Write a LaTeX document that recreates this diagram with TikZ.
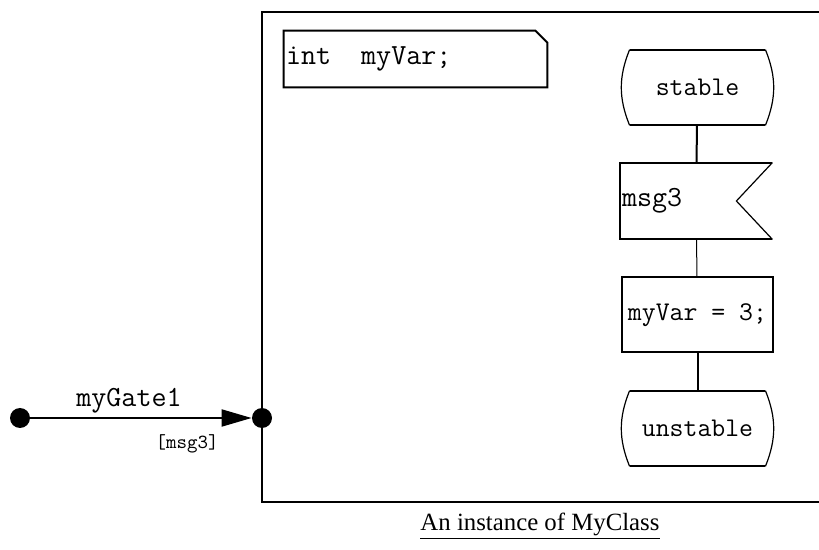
\documentclass[tikz,border=0pt]{standalone}
\usepackage{fontspec}
\setmainfont{Liberation Serif}
\usetikzlibrary{positioning,arrows.meta}

\begin{document}
\begin{tikzpicture}[x=0.5pt,y=-0.5pt,>=Stealth,
  sdlbox/.style={minimum width=75.5pt,minimum height=37.5pt,inner sep=1pt,font=\ttfamily\fontsize{13.5pt}{15pt}\selectfont},
  sdltask/.style={sdlbox,draw,line width=1pt},
  gatedot/.style={circle,fill=black,minimum size=10pt,inner sep=0pt},
  wire/.style={line width=1pt}]
\useasboundingbox (0,0) rectangle (819,550);
% frame of the instance
\draw[line width=1pt] (262,12) rectangle (824,502);
\node[font=\rmfamily\fontsize{12.4pt}{14pt}\selectfont] (caption) at (540,526) {\underline{An instance of MyClass}};
% declaration
\node[minimum width=131.5pt,minimum height=28pt,inner sep=1pt,text width=129.5pt,align=left,
  font=\ttfamily\fontsize{14.6pt}{16pt}\selectfont] (decl) at (415.5,59) {int\phantom{xx}myVar;};
\draw[line width=1pt] (decl.north west) -- ([xshift=-6pt]decl.north east) -- ([yshift=-6pt]decl.north east)
  -- (decl.south east) -- (decl.south west) -- cycle;
% state machine
\node[sdlbox] (stable) at (697.5,87.5) {stable};
\node[sdlbox,minimum width=76pt,minimum height=38pt,text width=74pt,align=left,
  font=\ttfamily\fontsize{14.6pt}{16pt}\selectfont] (msg3) at (696,201) {msg3\\[8pt]};
\node[sdltask] (assign) at (697.5,315) {myVar = 3;\\[4pt]};
\node[sdlbox] (unstable) at (697.5,428.5) {unstable};
\foreach \s in {stable,unstable}{
  \draw[line width=1pt] ([xshift=4pt]\s.north west) -- ([xshift=-4pt]\s.north east);
  \draw[line width=1pt] ([xshift=4pt]\s.south west) -- ([xshift=-4pt]\s.south east);
  \draw[line width=0.6pt] ([xshift=-4pt]\s.north east) to[bend left=22] ([xshift=-4pt]\s.south east);
  \draw[line width=0.6pt] ([xshift=4pt]\s.south west) to[bend left=22] ([xshift=4pt]\s.north west);}
\draw[line width=1pt] (msg3.north east) -- (msg3.north west) -- (msg3.south west) -- (msg3.south east);
\draw[line width=0.6pt] (msg3.north east) -- ([xshift=-18pt]msg3.east) -- (msg3.south east);
\draw[wire] (stable) -- (msg3);
\draw[line width=0.5pt] (msg3) -- (assign);
\draw[wire] (assign) -- (unstable);
% gate
\node[gatedot] (gout) at (20,418) {};
\node[gatedot] (gin) at (262,418) {};
\draw[wire,-{Triangle[length=15pt,width=8.5pt]}] (gout) -- (gin);
\node[font=\ttfamily\fontsize{14.6pt}{16pt}\selectfont] (gname) at (129,401) {myGate1};
\node[font=\ttfamily\fontsize{10pt}{11pt}\selectfont] (gsig) at (187,444) {[msg3]};
\end{tikzpicture}
\end{document}
